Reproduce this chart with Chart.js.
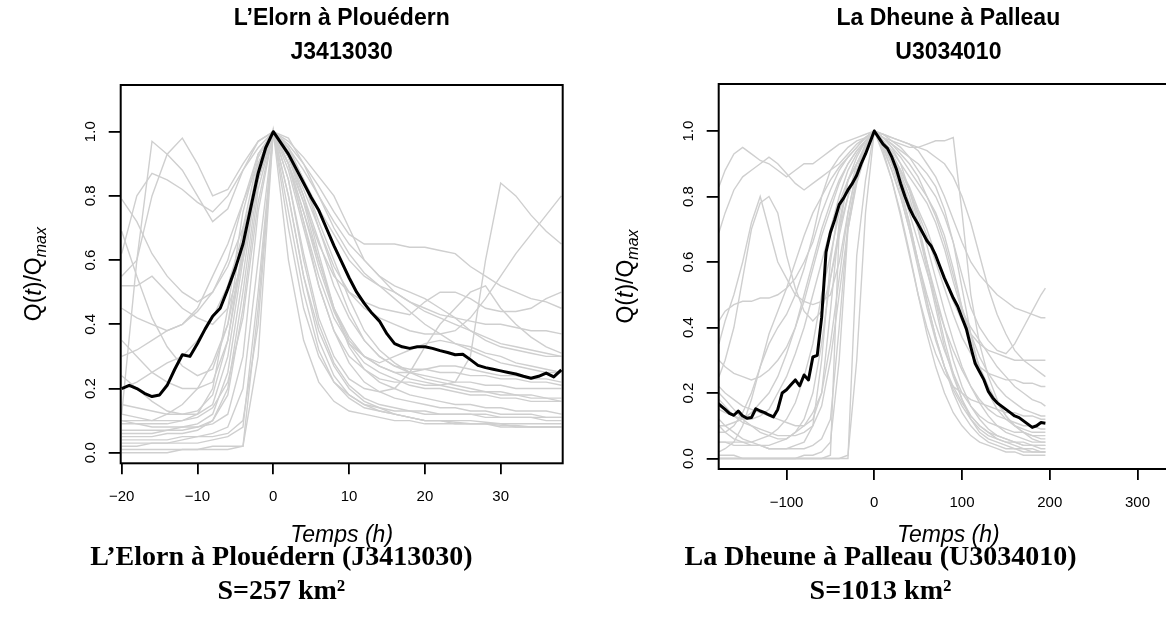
<!DOCTYPE html>
<html><head><meta charset="utf-8">
<script src="https://cdn.jsdelivr.net/npm/chart.js@4.4.1/dist/chart.umd.min.js"></script>
<style>
html,body{margin:0;padding:0;background:#fff;overflow:hidden;width:1166px;height:623px;}
#p1{position:absolute;left:0;top:0;width:583px;height:623px;}
#p2{position:absolute;left:583px;top:0;width:634px;height:623px;}
</style></head><body>
<canvas id="p1" width="583" height="623"></canvas>
<canvas id="p2" width="634" height="623"></canvas>
<script>
// ---------------- L'Elorn à Plouédern (J3413030) ----------------
const elornTitle = ["L’Elorn à Plouédern", "J3413030"];
const elornCaption = ["L’Elorn à Plouédern (J3413030)", "S=257 km²"];
const elornXTicks = [-20, -10, 0, 10, 20, 30];
const elornMeanHours = [-20,-19,-18,-17,-16,-15,-14,-13,-12,-11,-10,-9,-8,-7,-6,-5,-4,-3,-2,-1,0,1,2,3,4,5,6,7,8,9,10,11,12,13,14,15,16,17,18,19,20,21,22,23,24,25,26,27,28,29,30,31,32,33,34,35,36,37,38];
const elornMean = [0.20,0.21,0.20,0.185,0.175,0.18,0.21,0.26,0.305,0.30,0.34,0.385,0.425,0.45,0.51,0.575,0.65,0.76,0.87,0.95,1.0,0.965,0.93,0.885,0.84,0.795,0.755,0.70,0.645,0.595,0.545,0.50,0.465,0.435,0.41,0.37,0.34,0.33,0.325,0.33,0.33,0.325,0.318,0.312,0.305,0.307,0.29,0.272,0.265,0.26,0.255,0.25,0.245,0.238,0.232,0.238,0.248,0.236,0.258];
const elornEventHours = [-20,-18,-16,-14,-12,-10,-8,-6,-4,-2,0,2,4,6,8,10,12,14,16,18,20,22,24,26,28,30,32,34,36,38];
const elornEvent01 = [0.0,0.0,0.0,0.0,0.01,0.01,0.01,0.01,0.02,0.45,1.0,0.7,0.45,0.3,0.22,0.18,0.15,0.13,0.12,0.11,0.10,0.10,0.095,0.09,0.09,0.085,0.085,0.08,0.08,0.08];
const elornEvent02 = [0.02,0.02,0.03,0.03,0.04,0.05,0.06,0.08,0.2,0.6,1.0,0.8,0.55,0.38,0.27,0.2,0.16,0.14,0.12,0.11,0.10,0.10,0.09,0.09,0.09,0.09,0.08,0.08,0.08,0.08];
const elornEvent03 = [0.06,0.06,0.06,0.07,0.07,0.08,0.1,0.18,0.45,0.82,1.0,0.9,0.75,0.6,0.45,0.33,0.26,0.22,0.2,0.18,0.17,0.16,0.15,0.15,0.14,0.14,0.13,0.13,0.13,0.12];
const elornEvent04 = [0.09,0.09,0.08,0.08,0.08,0.09,0.12,0.25,0.55,0.88,1.0,0.88,0.7,0.52,0.38,0.28,0.22,0.19,0.17,0.16,0.15,0.14,0.14,0.13,0.13,0.12,0.12,0.12,0.11,0.11];
const elornEvent05 = [0.24,0.2,0.16,0.13,0.12,0.12,0.15,0.3,0.6,0.9,1.0,0.95,0.85,0.72,0.6,0.48,0.38,0.32,0.28,0.25,0.23,0.22,0.21,0.2,0.19,0.19,0.18,0.18,0.17,0.17];
const elornEvent06 = [0.79,0.72,0.62,0.55,0.5,0.47,0.5,0.6,0.78,0.93,1.0,0.93,0.8,0.62,0.45,0.35,0.3,0.27,0.25,0.23,0.22,0.21,0.2,0.19,0.19,0.18,0.18,0.17,0.17,0.16];
const elornEvent07 = [0.69,0.55,0.42,0.33,0.27,0.24,0.26,0.4,0.7,0.92,1.0,0.9,0.75,0.58,0.44,0.34,0.28,0.25,0.23,0.21,0.2,0.2,0.19,0.18,0.18,0.17,0.17,0.16,0.16,0.16];
const elornEvent08 = [0.12,0.6,0.97,0.93,0.88,0.8,0.72,0.76,0.88,0.97,1.0,0.95,0.88,0.8,0.72,0.65,0.6,0.55,0.5,0.47,0.45,0.43,0.42,0.41,0.4,0.4,0.39,0.38,0.38,0.37];
const elornEvent09 = [0.55,0.6,0.8,0.93,0.98,0.9,0.8,0.82,0.9,0.97,1.0,0.96,0.9,0.83,0.75,0.68,0.65,0.65,0.65,0.64,0.64,0.63,0.62,0.58,0.55,0.52,0.5,0.48,0.47,0.45];
const elornEvent10 = [0.62,0.8,0.87,0.85,0.82,0.78,0.75,0.8,0.88,0.95,1.0,0.97,0.92,0.86,0.8,0.7,0.6,0.55,0.52,0.5,0.48,0.45,0.42,0.38,0.35,0.33,0.32,0.31,0.3,0.3];
const elornEvent11 = [0.1,0.09,0.09,0.09,0.1,0.12,0.2,0.45,0.75,0.93,1.0,0.9,0.72,0.52,0.38,0.3,0.26,0.23,0.22,0.22,0.21,0.21,0.22,0.3,0.6,0.84,0.8,0.74,0.69,0.65];
const elornEvent12 = [0.45,0.42,0.4,0.38,0.4,0.45,0.55,0.65,0.78,0.9,1.0,0.95,0.85,0.7,0.58,0.5,0.45,0.42,0.4,0.38,0.37,0.37,0.38,0.42,0.48,0.55,0.62,0.68,0.74,0.8];
const elornEvent13 = [0.05,0.05,0.05,0.06,0.06,0.07,0.1,0.2,0.5,0.85,1.0,0.85,0.62,0.42,0.3,0.23,0.2,0.19,0.2,0.25,0.33,0.4,0.45,0.5,0.52,0.45,0.4,0.36,0.33,0.31];
const elornEvent14 = [0.15,0.14,0.13,0.12,0.12,0.13,0.18,0.35,0.65,0.9,1.0,0.92,0.8,0.66,0.52,0.42,0.35,0.3,0.27,0.25,0.24,0.23,0.22,0.22,0.21,0.21,0.2,0.2,0.2,0.2];
const elornEvent15 = [0.3,0.32,0.35,0.38,0.4,0.44,0.5,0.58,0.7,0.85,1.0,0.94,0.85,0.76,0.68,0.6,0.55,0.52,0.5,0.47,0.44,0.42,0.4,0.38,0.36,0.34,0.33,0.32,0.31,0.3];
const elornEvent16 = [0.52,0.52,0.55,0.5,0.45,0.42,0.4,0.45,0.6,0.85,1.0,0.9,0.78,0.65,0.55,0.5,0.47,0.45,0.44,0.43,0.47,0.5,0.5,0.48,0.45,0.44,0.44,0.45,0.48,0.5];
const elornEvent17 = [0.03,0.03,0.03,0.03,0.03,0.03,0.04,0.05,0.08,0.5,1.0,0.6,0.35,0.22,0.16,0.13,0.12,0.11,0.1,0.1,0.09,0.09,0.09,0.09,0.09,0.08,0.08,0.08,0.08,0.08];
const elornEvent18 = [0.1,0.1,0.1,0.12,0.15,0.2,0.28,0.4,0.62,0.88,1.0,0.92,0.78,0.6,0.45,0.36,0.3,0.27,0.25,0.25,0.26,0.27,0.27,0.26,0.25,0.24,0.24,0.23,0.23,0.22];
const elornEvent19 = [0.2,0.22,0.25,0.28,0.3,0.35,0.42,0.52,0.68,0.88,1.0,0.98,0.9,0.8,0.7,0.62,0.56,0.52,0.48,0.44,0.4,0.37,0.34,0.32,0.3,0.28,0.27,0.26,0.25,0.25];
const elornEvent20 = [0.07,0.07,0.07,0.07,0.08,0.08,0.09,0.12,0.3,0.75,1.0,0.8,0.55,0.35,0.24,0.18,0.15,0.14,0.13,0.13,0.12,0.12,0.12,0.12,0.11,0.11,0.11,0.11,0.1,0.1];
const elornEvent21 = [0.35,0.3,0.25,0.22,0.2,0.2,0.22,0.35,0.62,0.9,1.0,0.9,0.72,0.55,0.42,0.34,0.3,0.28,0.3,0.32,0.34,0.35,0.34,0.33,0.31,0.3,0.28,0.27,0.26,0.25];
const elornEvent22 = [0.01,0.01,0.01,0.01,0.01,0.01,0.02,0.02,0.02,0.3,1.0,0.75,0.5,0.32,0.22,0.17,0.14,0.13,0.12,0.11,0.1,0.1,0.1,0.1,0.095,0.09,0.09,0.09,0.09,0.09];
const elornEvent23 = [0.04,0.04,0.04,0.04,0.05,0.05,0.05,0.06,0.1,0.4,1.0,0.85,0.6,0.4,0.28,0.21,0.17,0.15,0.14,0.13,0.13,0.12,0.12,0.12,0.12,0.11,0.11,0.11,0.11,0.11];
const elornEvent24 = [0.12,0.11,0.1,0.1,0.1,0.11,0.14,0.22,0.42,0.78,1.0,0.92,0.82,0.7,0.56,0.44,0.35,0.3,0.27,0.26,0.26,0.25,0.25,0.24,0.24,0.23,0.23,0.22,0.22,0.21];

// ---------------- La Dheune à Palleau (U3034010) ----------------
const dheuneTitle = ["La Dheune à Palleau", "U3034010"];
const dheuneCaption = ["La Dheune à Palleau (U3034010)", "S=1013 km²"];
const dheuneXTicks = [-100, 0, 100, 200, 300];
const dheuneMeanHours = [-178,-170,-165,-160,-155,-150,-145,-140,-135,-130,-125,-120,-115,-110,-105,-100,-95,-90,-85,-80,-75,-70,-65,-60,-55,-50,-45,-40,-35,-30,-25,-20,-15,-10,-5,0,5,10,15,20,25,30,35,40,45,50,55,60,65,70,75,80,85,90,95,100,105,110,115,120,125,130,135,140,145,150,155,160,165,170,175,180,185,190,195];
const dheuneMean = [0.168,0.15,0.138,0.132,0.145,0.13,0.123,0.125,0.152,0.145,0.14,0.133,0.127,0.15,0.2,0.21,0.225,0.24,0.222,0.255,0.24,0.31,0.315,0.43,0.63,0.69,0.73,0.775,0.795,0.82,0.84,0.865,0.9,0.93,0.965,1.0,0.98,0.96,0.947,0.92,0.885,0.84,0.8,0.765,0.738,0.715,0.69,0.665,0.648,0.62,0.585,0.55,0.52,0.49,0.465,0.43,0.395,0.34,0.29,0.265,0.24,0.205,0.185,0.17,0.16,0.15,0.14,0.13,0.125,0.115,0.105,0.095,0.1,0.11,0.108];
const dheuneEventHours = [-177,-170,-160,-150,-140,-130,-120,-110,-100,-90,-80,-70,-60,-50,-40,-30,-20,-10,0,10,20,30,40,50,60,70,80,90,100,110,120,130,140,150,160,170,180,190,195];
const dheuneEvent01 = [0.83,0.88,0.93,0.95,0.93,0.91,0.9,0.88,0.86,0.88,0.9,0.9,0.92,0.94,0.96,0.97,0.98,0.99,1.0,0.98,0.96,0.93,0.9,0.86,0.8,0.74,0.66,0.56,0.46,0.38,0.31,0.26,0.22,0.19,0.17,0.15,0.14,0.13,0.13];
const dheuneEvent02 = [0.69,0.75,0.82,0.86,0.88,0.9,0.92,0.9,0.87,0.84,0.82,0.84,0.86,0.88,0.9,0.93,0.96,0.98,1.0,0.97,0.94,0.9,0.86,0.82,0.78,0.72,0.64,0.54,0.45,0.4,0.36,0.32,0.28,0.25,0.22,0.2,0.18,0.17,0.16];
const dheuneEvent03 = [0.35,0.42,0.5,0.6,0.72,0.8,0.7,0.6,0.55,0.5,0.48,0.47,0.48,0.5,0.6,0.75,0.88,0.96,1.0,0.97,0.93,0.88,0.83,0.76,0.7,0.62,0.55,0.48,0.42,0.38,0.35,0.33,0.32,0.31,0.3,0.3,0.3,0.3,0.3];
const dheuneEvent04 = [0,0,0,0,0,0,0,0,0,0,0,0,0,0,0,0,0.62,0.85,1.0,0.95,0.88,0.8,0.7,0.58,0.46,0.36,0.28,0.22,0.17,0.13,0.1,0.08,0.06,0.05,0.04,0.03,0.03,0.02,0.02];
const dheuneEvent05 = [0.01,0.01,0.01,0.0,0.0,0.0,0.0,0.0,0.0,0.0,0.01,0.01,0.02,0.05,0.3,0.7,0.85,0.93,1.0,0.93,0.85,0.75,0.63,0.5,0.38,0.28,0.2,0.14,0.1,0.07,0.05,0.04,0.03,0.02,0.02,0.01,0.01,0.01,0.01];
const dheuneEvent06 = [0.12,0.1,0.08,0.06,0.05,0.04,0.03,0.03,0.03,0.04,0.05,0.1,0.3,0.6,0.78,0.85,0.9,0.95,1.0,0.97,0.92,0.86,0.78,0.7,0.6,0.5,0.4,0.3,0.22,0.16,0.12,0.09,0.07,0.06,0.05,0.04,0.04,0.03,0.03];
const dheuneEvent07 = [0.2,0.18,0.15,0.12,0.1,0.08,0.07,0.06,0.06,0.08,0.12,0.2,0.35,0.55,0.7,0.8,0.88,0.95,1.0,0.98,0.95,0.92,0.88,0.84,0.8,0.75,0.68,0.58,0.46,0.36,0.28,0.22,0.17,0.13,0.1,0.08,0.06,0.05,0.05];
const dheuneEvent08 = [0.05,0.05,0.05,0.05,0.05,0.06,0.07,0.09,0.12,0.17,0.25,0.35,0.5,0.62,0.75,0.85,0.92,0.97,1.0,0.98,0.97,0.96,0.95,0.95,0.96,0.97,0.97,0.98,0.75,0.5,0.35,0.25,0.18,0.13,0.1,0.08,0.07,0.06,0.06];
const dheuneEvent09 = [0.42,0.45,0.47,0.48,0.48,0.49,0.49,0.5,0.52,0.55,0.6,0.66,0.75,0.82,0.88,0.92,0.95,0.98,1.0,0.99,0.97,0.95,0.92,0.88,0.84,0.8,0.74,0.66,0.56,0.46,0.4,0.36,0.33,0.32,0.35,0.4,0.45,0.5,0.52];
const dheuneEvent10 = [0.3,0.28,0.26,0.25,0.24,0.25,0.27,0.3,0.34,0.4,0.48,0.58,0.68,0.76,0.84,0.9,0.94,0.97,1.0,0.99,0.98,0.97,0.96,0.94,0.9,0.86,0.8,0.73,0.66,0.6,0.56,0.53,0.5,0.48,0.46,0.45,0.44,0.43,0.43];
const dheuneEvent11 = [0.08,0.08,0.1,0.14,0.2,0.28,0.35,0.4,0.44,0.5,0.58,0.68,0.8,0.88,0.92,0.95,0.97,0.98,1.0,0.96,0.9,0.82,0.72,0.6,0.48,0.37,0.28,0.21,0.16,0.12,0.09,0.07,0.06,0.05,0.05,0.04,0.04,0.04,0.04];
const dheuneEvent12 = [0.15,0.14,0.13,0.12,0.12,0.13,0.15,0.2,0.25,0.32,0.4,0.5,0.6,0.7,0.8,0.88,0.93,0.97,1.0,0.95,0.88,0.8,0.7,0.6,0.5,0.41,0.33,0.26,0.2,0.16,0.13,0.11,0.1,0.09,0.08,0.08,0.07,0.07,0.07];
const dheuneEvent13 = [0.25,0.3,0.4,0.55,0.7,0.78,0.8,0.75,0.62,0.52,0.45,0.42,0.45,0.55,0.68,0.8,0.9,0.96,1.0,0.96,0.9,0.83,0.75,0.66,0.57,0.48,0.4,0.33,0.27,0.22,0.18,0.15,0.13,0.12,0.11,0.1,0.1,0.09,0.09];
const dheuneEvent14 = [0.05,0.05,0.04,0.04,0.04,0.04,0.04,0.05,0.06,0.08,0.1,0.14,0.2,0.35,0.55,0.75,0.88,0.95,1.0,0.94,0.85,0.74,0.62,0.5,0.4,0.32,0.26,0.22,0.2,0.18,0.17,0.16,0.15,0.14,0.14,0.13,0.13,0.12,0.12];
const dheuneEvent15 = [0.18,0.16,0.13,0.11,0.1,0.09,0.08,0.07,0.07,0.07,0.08,0.1,0.16,0.3,0.5,0.7,0.84,0.93,1.0,0.97,0.93,0.88,0.82,0.75,0.68,0.6,0.52,0.44,0.37,0.32,0.28,0.26,0.25,0.24,0.24,0.23,0.23,0.22,0.22];
const dheuneEvent16 = [0,0,0,0,0,0,0,0,0,0,0,0,0,0,0,0.01,0.3,0.75,1.0,0.96,0.9,0.82,0.72,0.6,0.48,0.37,0.28,0.2,0.14,0.1,0.07,0.05,0.04,0.03,0.03,0.02,0.02,0.02,0.02];
const dheuneEvent17 = [0.1,0.1,0.11,0.12,0.14,0.17,0.2,0.25,0.32,0.4,0.5,0.6,0.7,0.78,0.85,0.9,0.94,0.97,1.0,0.99,0.98,0.97,0.96,0.95,0.94,0.92,0.9,0.86,0.8,0.72,0.62,0.52,0.44,0.38,0.33,0.3,0.28,0.26,0.25];
const dheuneEvent18 = [0.02,0.03,0.05,0.1,0.18,0.28,0.38,0.45,0.52,0.6,0.68,0.75,0.8,0.85,0.89,0.92,0.95,0.98,1.0,0.97,0.93,0.88,0.82,0.74,0.65,0.55,0.45,0.36,0.28,0.22,0.17,0.13,0.1,0.08,0.07,0.06,0.05,0.05,0.05];
const dheuneEvent19 = [0,0,0,0,0,0,0,0,0,0,0,0,0,0.01,0.7,0.85,0.9,0.95,1.0,0.98,0.95,0.9,0.82,0.72,0.6,0.48,0.36,0.26,0.18,0.12,0.08,0.06,0.05,0.04,0.03,0.03,0.02,0.02,0.02];
const dheuneEvent20 = [0.1,0.08,0.06,0.05,0.04,0.04,0.03,0.03,0.03,0.03,0.03,0.04,0.06,0.12,0.4,0.72,0.86,0.94,1.0,0.97,0.93,0.87,0.8,0.7,0.58,0.46,0.34,0.25,0.18,0.13,0.1,0.08,0.07,0.06,0.05,0.05,0.04,0.04,0.04];
const dheuneEvent21 = [0.22,0.2,0.18,0.16,0.15,0.14,0.13,0.12,0.11,0.1,0.1,0.12,0.2,0.45,0.72,0.85,0.9,0.95,1.0,0.98,0.96,0.94,0.92,0.9,0.87,0.83,0.76,0.66,0.52,0.38,0.27,0.2,0.15,0.12,0.1,0.09,0.08,0.08,0.08];

const yTickValues = [0, 0.2, 0.4, 0.6, 0.8, 1.0];

// ---------------- drawing ----------------
const SANS = '"Liberation Sans", Arial, Helvetica, sans-serif';
const SERIF = '"Liberation Serif", "Times New Roman", serif';
const GREY = '#cfcfcf';

function pairs(xs, ys) {
  const n = Math.min(xs.length, ys.length);
  const out = [];
  for (let i = 0; i < n; i++) out.push({x: xs[i], y: ys[i]});
  return out;
}
function fmtX(v) { return v < 0 ? '\u2212' + Math.abs(v) : String(v); }

function drawYLabel(ctx, xc, yc) {
  const parts = [
    ['Q(', '23px ' + SANS, 0],
    ['t', 'italic 23px ' + SANS, 0],
    [')/Q', '23px ' + SANS, 0],
    ['max', 'italic 16px ' + SANS, 5]
  ];
  ctx.save();
  ctx.translate(xc, yc);
  ctx.rotate(-Math.PI / 2);
  ctx.fillStyle = '#000';
  ctx.textAlign = 'left';
  ctx.textBaseline = 'alphabetic';
  let total = 0;
  const widths = parts.map(p => { ctx.font = p[1]; const w = ctx.measureText(p[0]).width; total += w; return w; });
  let x = -total / 2;
  parts.forEach((p, i) => { ctx.font = p[1]; ctx.fillText(p[0], x, 8 + p[2]); x += widths[i]; });
  ctx.restore();
}

function framePlugin(labelOffset) {
  return {
    id: 'rframe',
    afterDraw(chart) {
      const {ctx, chartArea: a} = chart;
      ctx.save();
      ctx.strokeStyle = '#000';
      ctx.lineWidth = 2;
      ctx.strokeRect(a.left, a.top, a.right - a.left, a.bottom - a.top);
      ctx.restore();
      drawYLabel(ctx, a.left - labelOffset, (a.top + a.bottom) / 2);
    }
  };
}

function buildPanel(id, P) {
  const datasets = [{
    data: pairs(P.meanX, P.meanY), borderColor: '#000', borderWidth: 3,
    pointRadius: 0, tension: 0, order: 0, borderJoinStyle: 'round'
  }];
  P.events.forEach(ev => datasets.push({
    data: pairs(P.eventX, ev), borderColor: GREY, borderWidth: 1.4,
    pointRadius: 0, tension: 0, order: 1
  }));
  const capTop = 540.5;
  new Chart(document.getElementById(id), {
    type: 'line',
    data: {datasets},
    options: {
      responsive: false, animation: false, devicePixelRatio: 1,
      layout: {padding: {left: 0, top: 0, bottom: 0, right: P.canvasW - P.areaRight}, autoPadding: false},
      plugins: {
        legend: {display: false}, tooltip: {enabled: false},
        title: {display: true, text: P.title, fullSize: false, color: '#000',
          font: {family: SANS, size: 23, weight: 'bold', lineHeight: 34 / 23},
          padding: {top: 2, bottom: P.areaTop - 70}},
        subtitle: {display: true, position: 'bottom', text: P.caption, color: '#000',
          font: {family: SERIF, size: 28, weight: 'bold', lineHeight: 34 / 28},
          padding: {top: 0, bottom: 623 - capTop - 68}}
      },
      scales: {
        x: {
          type: 'linear', min: P.xMin, max: P.xMax,
          afterBuildTicks: s => { s.ticks = P.xTicks.map(v => ({value: v})); },
          afterFit: s => { s.height = capTop - P.areaBottom; },
          grid: {drawOnChartArea: false, drawTicks: true, tickLength: 11, color: '#000', lineWidth: 1.8},
          border: {display: false},
          ticks: {color: '#000', font: {family: SANS, size: 15}, padding: 14, maxRotation: 0, autoSkip: false, callback: fmtX},
          title: {display: true, text: 'Temps (h)', color: '#000',
            font: {family: SANS, size: 23, style: 'italic', lineHeight: 9 / 23}, padding: {top: 0, bottom: 0}}
        },
        y: {
          type: 'linear', min: P.yMin, max: P.yMax,
          afterBuildTicks: s => { s.ticks = yTickValues.map(v => ({value: v})); },
          afterFit: s => { s.width = P.areaLeft; },
          grid: {drawOnChartArea: false, drawTicks: true, tickLength: 12, color: '#000', lineWidth: 1.8},
          border: {display: false},
          ticks: {color: '#000', font: {family: SANS, size: 15}, padding: 7, minRotation: 90, maxRotation: 90,
            crossAlign: 'center', autoSkip: false, callback: v => v.toFixed(1)}
        }
      }
    },
    plugins: [framePlugin(P.yLabelOffset)]
  });
}

buildPanel('p1', {
  title: elornTitle, caption: elornCaption, xTicks: elornXTicks,
  meanX: elornMeanHours, meanY: elornMean, eventX: elornEventHours,
  events: [elornEvent01, elornEvent02, elornEvent03, elornEvent04, elornEvent05, elornEvent06, elornEvent07, elornEvent08,
    elornEvent09, elornEvent10, elornEvent11, elornEvent12, elornEvent13, elornEvent14, elornEvent15, elornEvent16,
    elornEvent17, elornEvent18, elornEvent19, elornEvent20, elornEvent21, elornEvent22, elornEvent23, elornEvent24],
  canvasW: 583, areaLeft: 120.7, areaRight: 562.7, areaTop: 85, areaBottom: 463.3,
  xMin: -20.13, xMax: 38.18, yMin: -0.033, yMax: 1.1455, yLabelOffset: 88
});
buildPanel('p2', {
  title: dheuneTitle, caption: dheuneCaption, xTicks: dheuneXTicks,
  meanX: dheuneMeanHours, meanY: dheuneMean, eventX: dheuneEventHours,
  events: [dheuneEvent01, dheuneEvent02, dheuneEvent03, dheuneEvent04, dheuneEvent05, dheuneEvent06, dheuneEvent07,
    dheuneEvent08, dheuneEvent09, dheuneEvent10, dheuneEvent11, dheuneEvent12, dheuneEvent13, dheuneEvent14,
    dheuneEvent15, dheuneEvent16, dheuneEvent17, dheuneEvent18, dheuneEvent19, dheuneEvent20, dheuneEvent21],
  canvasW: 634, areaLeft: 135.7, areaRight: 595, areaTop: 84, areaBottom: 469,
  xMin: -177.3, xMax: 346.1, yMin: -0.032, yMax: 1.1435, yLabelOffset: 94
});
</script>
</body></html>
